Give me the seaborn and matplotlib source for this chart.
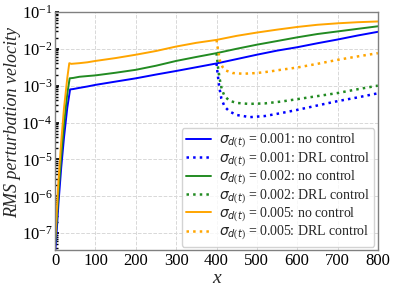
import numpy as np
import pandas as pd
import matplotlib
matplotlib.use('Agg')
import matplotlib.pyplot as plt
import seaborn as sns

# no control: sigma = 0.001
x_nc_001 = [0, 3, 8, 15, 22, 30, 37, 45, 60, 80, 100, 150, 200, 250, 300, 350, 400,
            450, 500, 550, 600, 650, 700, 750, 800]
y_nc_001 = [3e-8, 8e-8, 6e-7, 6e-6, 4e-5, 2.5e-4, 7.9e-4, 8.1e-4, 8.7e-4, 9.5e-4,
            1.05e-3, 1.29e-3, 1.58e-3, 2.0e-3, 2.5e-3, 3.16e-3, 4.0e-3, 5.25e-3,
            6.9e-3, 8.9e-3, 1.1e-2, 1.41e-2, 1.78e-2, 2.29e-2, 2.88e-2]

# no control: sigma = 0.002
x_nc_002 = [0, 3, 8, 15, 22, 30, 36, 45, 60, 80, 100, 150, 200, 250, 300, 350, 400,
            450, 500, 550, 600, 650, 700, 750, 800]
y_nc_002 = [5e-8, 1.5e-7, 1.2e-6, 1.2e-5, 9e-5, 6e-4, 1.58e-3, 1.62e-3, 1.74e-3,
            1.82e-3, 1.9e-3, 2.24e-3, 2.69e-3, 3.47e-3, 4.68e-3, 6.0e-3, 7.6e-3,
            1.0e-2, 1.29e-2, 1.62e-2, 2.04e-2, 2.51e-2, 2.95e-2, 3.47e-2, 4.07e-2]

# no control: sigma = 0.005
x_nc_005 = [0, 3, 8, 15, 22, 30, 35, 40, 60, 80, 100, 150, 200, 250, 300, 350, 400,
            450, 500, 550, 600, 650, 700, 750, 800]
y_nc_005 = [7e-8, 2.5e-7, 2.5e-6, 3e-5, 2.5e-4, 1.6e-3, 4.07e-3, 3.9e-3, 4.07e-3,
            4.3e-3, 4.68e-3, 5.6e-3, 6.9e-3, 8.7e-3, 1.15e-2, 1.45e-2, 1.74e-2,
            2.24e-2, 2.75e-2, 3.3e-2, 3.9e-2, 4.47e-2, 4.9e-2, 5.25e-2, 5.5e-2]

# DRL control (starts at x = 400)
x_drl_001 = [400, 403, 407, 412, 420, 432, 450, 483, 520, 560, 600, 650, 700, 750, 800]
y_drl_001 = [4.0e-3, 2e-3, 9e-4, 4.5e-4, 2.7e-4, 2e-4, 1.6e-4, 1.4e-4, 1.5e-4,
             1.8e-4, 2.2e-4, 2.9e-4, 3.8e-4, 4.8e-4, 6.2e-4]

x_drl_002 = [400, 404, 408, 413, 420, 432, 450, 480, 520, 560, 600, 650, 700, 750, 800]
y_drl_002 = [7.6e-3, 3e-3, 1.5e-3, 8e-4, 5.2e-4, 3.9e-4, 3.4e-4, 3.2e-4, 3.3e-4,
             3.7e-4, 4.3e-4, 5.2e-4, 6.3e-4, 8e-4, 1e-3]

x_drl_005 = [400, 404, 409, 415, 422, 440, 466, 500, 530, 560, 600, 650, 700, 750, 800]
y_drl_005 = [1.74e-2, 9e-3, 4.5e-3, 3.2e-3, 2.6e-3, 2.2e-3, 2.1e-3, 2.2e-3, 2.4e-3,
             2.7e-3, 3.1e-3, 3.9e-3, 5e-3, 6.2e-3, 7.6e-3]

sigmas = ['0.001', '0.002', '0.005']
colors = ['blue', 'forestgreen', 'orange']

sns.set_theme(style='whitegrid')
plt.rcParams['font.family'] = ['Liberation Serif', 'DejaVu Sans']
plt.rcParams['mathtext.fontset'] = 'custom'
plt.rcParams['mathtext.rm'] = 'Liberation Serif'
plt.rcParams['mathtext.it'] = 'DejaVu Sans:italic'

fig = plt.figure(figsize=(3.94, 2.90), dpi=100)
ax = fig.add_axes([0.14, 0.138, 0.819, 0.821])

series = [
    (x_nc_001, y_nc_001, x_drl_001, y_drl_001),
    (x_nc_002, y_nc_002, x_drl_002, y_drl_002),
    (x_nc_005, y_nc_005, x_drl_005, y_drl_005),
]
for (xn, yn, xd, yd), s, c in zip(series, sigmas, colors):
    sns.lineplot(x=xn, y=yn, ax=ax, color=c, lw=1.4, sort=False, estimator=None,
                 label=r'$\sigma_{d(t)}$ = ' + s + ': no control')
    sns.lineplot(x=xd, y=yd, ax=ax, color=c, lw=1.8, linestyle=':', sort=False,
                 estimator=None, label=r'$\sigma_{d(t)}$ = ' + s + ': DRL control')

ax.set_yscale('log')
ax.set_xlim(0, 800)
ax.set_ylim(3.5e-8, 1e-1)
ax.set_xticks([0, 100, 200, 300, 400, 500, 600, 700, 800])

ax.grid(True, which='major', linestyle='--', color='#d8d8d8', linewidth=0.7)
for sp in ax.spines.values():
    sp.set_color('#808080')
    sp.set_linewidth(1.0)
ax.tick_params(axis='both', which='both', direction='in', labelsize=12,
               colors='black', length=3, pad=2)
ax.tick_params(axis='y', which='minor', length=2, left=True)
ax.tick_params(axis='y', which='major', left=True)

ax.set_xlabel('x', fontsize=14, fontstyle='italic', labelpad=1)
ax.set_ylabel('RMS perturbation velocity', fontsize=13, fontstyle='italic')
ax.yaxis.set_label_coords(-0.105, 0.535)

leg = ax.legend(loc='lower right', fontsize=10, frameon=True, handlelength=1.8,
                labelspacing=0.02, borderpad=0.3, borderaxespad=0.25,
                handletextpad=0.6)
leg.get_frame().set_edgecolor('#c8c8c8')

fig.savefig('out.png', dpi=100)
